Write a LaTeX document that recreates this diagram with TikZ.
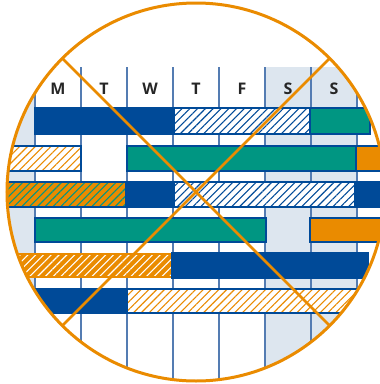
\documentclass[tikz,border=0pt]{standalone}
\usepackage{fontspec}
\setsansfont{Open Sans}
\usetikzlibrary{patterns.meta}
\definecolor{planblue}{RGB}{0,74,152}
\definecolor{planteal}{RGB}{0,150,130}
\definecolor{planorange}{RGB}{234,139,0}
\definecolor{weekend}{RGB}{221,230,239}
\definecolor{gridblue}{RGB}{84,124,178}

\begin{document}
\begin{tikzpicture}[x=1pt, y=-1pt,
  bar/.style={draw=planblue, line width=1.8pt},
  bluebar/.style={bar, fill=planblue},
  tealbar/.style={bar, fill=planteal},
  orangebar/.style={bar, fill=planorange},
  hatchbar/.style={bar, preaction={fill=#1},
    pattern={Lines[angle=45, distance=5.5pt, line width=1.1pt]}},
  day/.style={anchor=base, font=\sffamily\bfseries\fontsize{16}{16}\selectfont, text=black!85}]
\useasboundingbox (0,0) rectangle (380,384);
\coordinate (hub) at (196,192);
\begin{scope}
\clip (hub) circle (189pt);
% weekend columns
\fill[weekend] (-20,67) rectangle (35,400);
\fill[weekend] (265,67) rectangle (357,400);
\foreach \x in {35,81,...,357} \draw[gridblue, line width=1.1pt] (\x,67) -- (\x,400);
\foreach \d/\x [count=\i] in {M/58, T/104, W/150, T/196, F/242, S/288, S/334}
  \node[day] (day\i) at (\x,94) {\d};
% row 1
\draw[bluebar] (35,108) rectangle (174,134);
\draw[hatchbar=white, pattern color=planblue] (174,108) rectangle (310,134);
\draw[tealbar] (310,108) rectangle (370,134);
% row 2
\draw[hatchbar=white, pattern color=planorange] (-10,146) rectangle (81,171);
\draw[tealbar] (127,146) rectangle (356,171);
\draw[orangebar] (356,146) rectangle (420,171);
% row 3
\draw[hatchbar=planorange, pattern color=planteal] (-10,182) rectangle (126,207);
\draw[bluebar] (126,182) rectangle (174,207);
\draw[hatchbar=white, pattern color=planblue] (174,182) rectangle (355,207);
\draw[bluebar] (355,182) rectangle (420,207);
% row 4
\draw[tealbar] (35,218) rectangle (266,242);
\draw[orangebar] (310,218) rectangle (420,242);
% row 5
\draw[hatchbar=planorange, pattern color=white, draw=planorange] (-10,254) rectangle (172,277);
\draw[bluebar] (172,253) rectangle (368,278);
% row 6
\draw[bluebar] (-10,289) rectangle (127,313);
\draw[hatchbar=white, pattern color=planorange] (127,289) rectangle (420,313);
\end{scope}
% crossed out
\coordinate (nw) at (62.4,58.4);
\coordinate (ne) at (329.6,58.4);
\coordinate (sw) at (62.4,325.6);
\coordinate (se) at (329.6,325.6);
\draw[planorange, line width=2.6pt] (nw) -- (se);
\draw[planorange, line width=2.6pt] (ne) -- (sw);
\draw[planorange, line width=3pt] (hub) circle (189pt);
\end{tikzpicture}
\end{document}
